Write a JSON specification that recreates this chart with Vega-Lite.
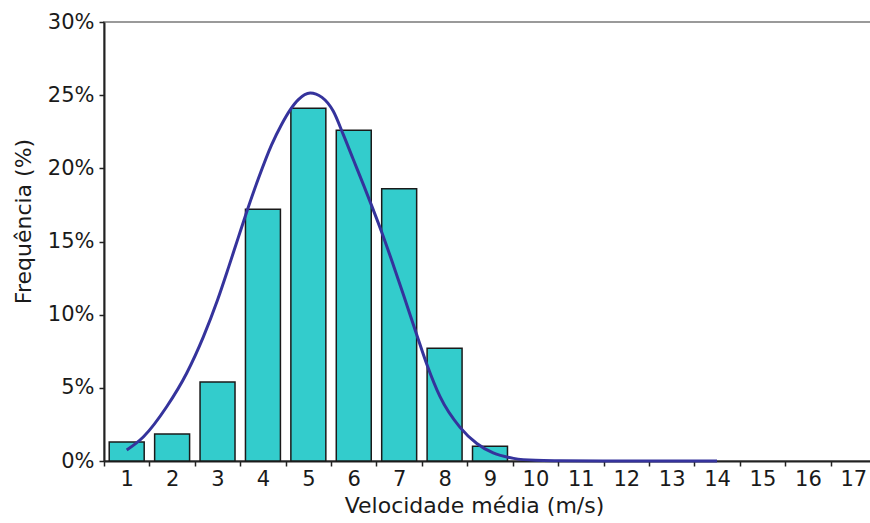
{
  "$schema": "https://vega.github.io/schema/vega-lite/v6.json",
  "autosize": "none",
  "padding": {"left": 104, "top": 22, "right": -6, "bottom": 62},
  "width": 772,
  "height": 439,
  "background": "white",
  "config": {
    "view": {"stroke": "#9a9a9a", "strokeWidth": 2},
    "font": "DejaVu Sans",
    "axis": {
      "labelFont": "DejaVu Sans",
      "titleFont": "DejaVu Sans",
      "labelColor": "#1a1a1a",
      "titleColor": "#1a1a1a",
      "labelFontSize": 21,
      "titleFontSize": 22,
      "titleFontWeight": "normal",
      "domainColor": "#222222",
      "domainWidth": 2,
      "tickColor": "#222222",
      "tickWidth": 1.5,
      "tickSize": 5,
      "grid": false
    }
  },
  "layer": [
    {
      "data": {
        "values": [
          {"velocidade": 1, "frequencia": 1.3},
          {"velocidade": 2, "frequencia": 1.85},
          {"velocidade": 3, "frequencia": 5.4},
          {"velocidade": 4, "frequencia": 17.2},
          {"velocidade": 5, "frequencia": 24.1},
          {"velocidade": 6, "frequencia": 22.6},
          {"velocidade": 7, "frequencia": 18.6},
          {"velocidade": 8, "frequencia": 7.7},
          {"velocidade": 9, "frequencia": 1.0}
        ]
      },
      "mark": {"type": "bar", "fill": "#33CCCC", "stroke": "#1a1a1a", "strokeWidth": 1.5, "width": {"band": 0.77}},
      "encoding": {
        "x": {
          "field": "velocidade",
          "type": "ordinal",
          "scale": {"domain": [1, 2, 3, 4, 5, 6, 7, 8, 9, 10, 11, 12, 13, 14, 15, 16, 17], "paddingInner": 0, "paddingOuter": 0},
          "axis": {
            "title": "Velocidade média (m/s)",
            "labelAngle": 0,
            "tickBand": "extent",
            "labelPadding": 2,
            "titlePadding": 6,
            "titleX": 370
          }
        },
        "y": {
          "field": "frequencia",
          "type": "quantitative",
          "scale": {"domain": [0, 30], "nice": false},
          "axis": {
            "title": "Frequência (%)",
            "values": [0, 5, 10, 15, 20, 25, 30],
            "labelExpr": "datum.value + '%'",
            "labelPadding": 5,
            "titlePadding": 12,
            "titleY": 199
          }
        }
      }
    },
    {
      "data": {
        "values": [
          {"v": 1.0, "f": 0.75},
          {"v": 1.37, "f": 1.66},
          {"v": 1.88, "f": 3.71},
          {"v": 2.32, "f": 6.0},
          {"v": 2.69, "f": 8.5},
          {"v": 3.0, "f": 11.0},
          {"v": 3.25, "f": 13.3},
          {"v": 3.46, "f": 15.3},
          {"v": 3.64, "f": 17.0},
          {"v": 3.9, "f": 19.3},
          {"v": 4.19, "f": 21.6},
          {"v": 4.41, "f": 23.0},
          {"v": 4.6, "f": 24.0},
          {"v": 4.78, "f": 24.7},
          {"v": 5.04, "f": 25.15},
          {"v": 5.3, "f": 24.85},
          {"v": 5.55, "f": 23.9},
          {"v": 5.77, "f": 22.3},
          {"v": 5.99, "f": 20.6},
          {"v": 6.21, "f": 18.9},
          {"v": 6.4, "f": 17.4},
          {"v": 6.62, "f": 15.6},
          {"v": 6.87, "f": 13.4},
          {"v": 7.09, "f": 11.4},
          {"v": 7.39, "f": 8.6},
          {"v": 7.61, "f": 6.6},
          {"v": 7.9, "f": 4.4},
          {"v": 8.34, "f": 2.3},
          {"v": 8.71, "f": 1.2},
          {"v": 9.07, "f": 0.55},
          {"v": 9.52, "f": 0.18},
          {"v": 10.0, "f": 0.05},
          {"v": 10.55, "f": 0.02},
          {"v": 11.5, "f": 0.0},
          {"v": 14.0, "f": 0.0}
        ]
      },
      "mark": {"type": "line", "color": "#35339C", "strokeWidth": 3, "interpolate": "monotone"},
      "encoding": {
        "x": {"field": "v", "type": "quantitative", "scale": {"domain": [0.5, 17.5], "nice": false, "zero": false}, "axis": null},
        "y": {"field": "f", "type": "quantitative"}
      }
    }
  ],
  "resolve": {"scale": {"x": "independent"}}
}
